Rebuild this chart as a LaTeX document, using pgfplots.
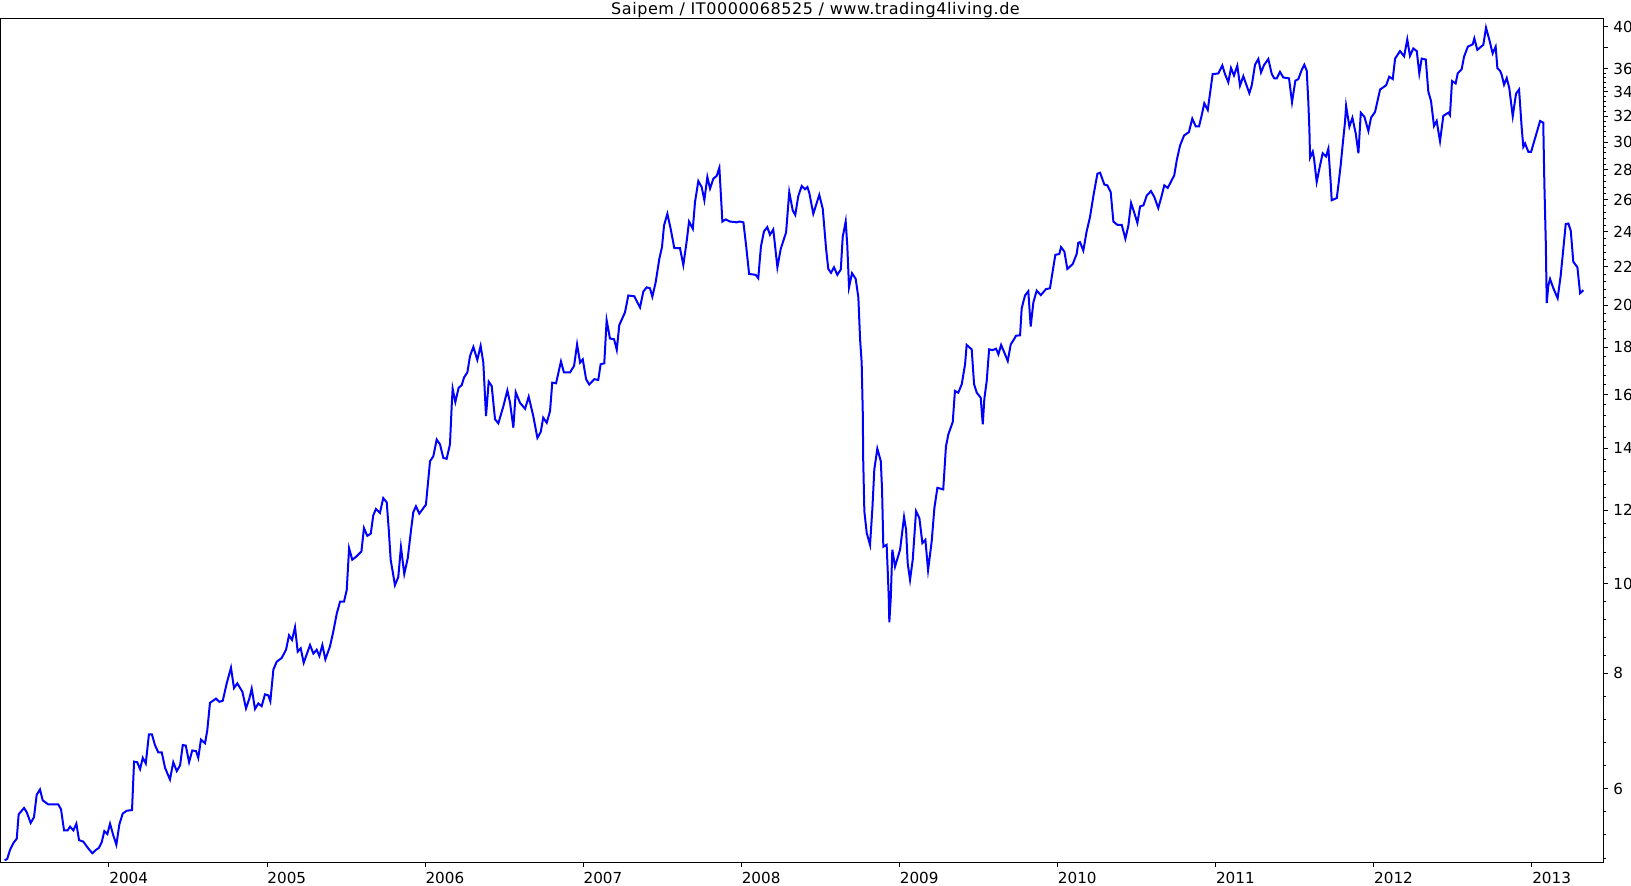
\documentclass[border=0pt]{standalone}
\usepackage{fontspec}
\setmainfont{DejaVu Sans}
\newfontfamily\titlefont[LetterSpace=3.5]{DejaVu Sans}
\usepackage{pgfplots}
\pgfplotsset{compat=1.18}

\pgfplotstableread{
t v
2003.341 5.02
2003.357 5.04
2003.374 5.15
2003.395 5.24
2003.417 5.30
2003.429 5.63
2003.463 5.72
2003.480 5.66
2003.505 5.51
2003.526 5.59
2003.543 5.91
2003.564 5.99
2003.581 5.83
2003.617 5.77
2003.659 5.77
2003.680 5.77
2003.697 5.70
2003.716 5.41
2003.739 5.41
2003.754 5.46
2003.775 5.41
2003.794 5.50
2003.811 5.28
2003.838 5.26
2003.870 5.17
2003.895 5.11
2003.916 5.15
2003.937 5.18
2003.954 5.25
2003.971 5.40
2003.990 5.36
2004.007 5.50
2004.028 5.34
2004.047 5.22
2004.066 5.49
2004.087 5.64
2004.112 5.68
2004.146 5.69
2004.159 6.42
2004.179 6.41
2004.197 6.30
2004.214 6.48
2004.233 6.39
2004.253 6.87
2004.272 6.87
2004.291 6.69
2004.312 6.57
2004.334 6.57
2004.355 6.32
2004.386 6.14
2004.407 6.41
2004.429 6.27
2004.450 6.36
2004.467 6.69
2004.486 6.68
2004.507 6.41
2004.527 6.60
2004.551 6.59
2004.565 6.48
2004.582 6.78
2004.608 6.72
2004.622 6.94
2004.639 7.43
2004.677 7.51
2004.698 7.45
2004.720 7.47
2004.745 7.80
2004.772 8.11
2004.791 7.71
2004.812 7.80
2004.844 7.64
2004.867 7.33
2004.888 7.51
2004.903 7.70
2004.924 7.32
2004.945 7.42
2004.966 7.37
2004.987 7.59
2005.008 7.57
2005.021 7.46
2005.040 8.07
2005.061 8.23
2005.093 8.31
2005.120 8.48
2005.139 8.79
2005.158 8.69
2005.177 8.97
2005.194 8.44
2005.213 8.51
2005.232 8.21
2005.272 8.58
2005.293 8.40
2005.314 8.48
2005.331 8.35
2005.350 8.58
2005.369 8.28
2005.398 8.55
2005.419 8.87
2005.441 9.28
2005.462 9.56
2005.487 9.56
2005.504 9.84
2005.519 10.92
2005.539 10.61
2005.561 10.68
2005.597 10.83
2005.613 11.48
2005.634 11.26
2005.656 11.32
2005.672 11.85
2005.689 12.04
2005.714 11.92
2005.735 12.37
2005.757 12.24
2005.770 11.43
2005.782 10.61
2005.809 9.96
2005.830 10.16
2005.847 10.95
2005.868 10.24
2005.890 10.65
2005.911 11.43
2005.925 11.94
2005.942 12.12
2005.963 11.90
2006.005 12.17
2006.031 13.56
2006.052 13.73
2006.073 14.31
2006.094 14.14
2006.115 13.67
2006.136 13.64
2006.157 14.14
2006.168 15.56
2006.174 16.24
2006.191 15.71
2006.212 16.28
2006.231 16.38
2006.246 16.70
2006.267 16.91
2006.284 17.62
2006.305 18.02
2006.330 17.45
2006.351 18.07
2006.368 17.33
2006.385 15.17
2006.402 16.53
2006.421 16.35
2006.442 15.05
2006.463 14.90
2006.494 15.53
2006.520 16.17
2006.537 15.68
2006.558 14.74
2006.573 16.10
2006.600 15.68
2006.632 15.45
2006.655 15.92
2006.684 15.17
2006.710 14.37
2006.731 14.58
2006.747 15.11
2006.769 14.92
2006.790 15.36
2006.804 16.49
2006.828 16.46
2006.859 17.38
2006.878 16.91
2006.916 16.91
2006.942 17.19
2006.961 18.14
2006.980 17.33
2006.997 17.47
2007.018 16.63
2007.038 16.41
2007.070 16.63
2007.095 16.60
2007.110 17.26
2007.133 17.30
2007.148 19.26
2007.169 18.40
2007.195 18.37
2007.212 17.89
2007.228 19.03
2007.264 19.64
2007.285 20.48
2007.323 20.44
2007.359 19.88
2007.380 20.68
2007.401 20.90
2007.422 20.85
2007.437 20.42
2007.458 21.16
2007.481 22.43
2007.498 23.10
2007.511 24.38
2007.532 25.10
2007.553 24.18
2007.576 23.04
2007.612 23.04
2007.633 22.10
2007.655 23.49
2007.669 24.62
2007.693 24.18
2007.707 25.85
2007.728 27.23
2007.749 26.83
2007.766 25.96
2007.785 27.51
2007.802 26.72
2007.823 27.39
2007.844 27.58
2007.861 28.15
2007.880 24.62
2007.901 24.75
2007.928 24.62
2007.971 24.57
2007.987 24.62
2008.013 24.57
2008.030 23.20
2008.049 21.61
2008.091 21.56
2008.107 21.38
2008.124 23.14
2008.143 24.02
2008.164 24.28
2008.181 23.82
2008.202 24.14
2008.228 21.97
2008.249 23.00
2008.283 23.96
2008.303 26.50
2008.325 25.31
2008.341 25.03
2008.360 26.23
2008.382 26.90
2008.403 26.68
2008.418 26.83
2008.430 26.43
2008.455 25.10
2008.493 26.31
2008.515 25.41
2008.536 23.00
2008.550 21.88
2008.567 21.67
2008.586 21.97
2008.607 21.56
2008.629 21.85
2008.641 23.68
2008.660 24.63
2008.670 23.20
2008.681 20.90
2008.700 21.65
2008.723 21.35
2008.740 20.39
2008.751 18.37
2008.761 17.33
2008.768 15.30
2008.771 13.56
2008.778 11.97
2008.793 11.34
2008.814 11.01
2008.829 12.07
2008.841 13.28
2008.860 13.99
2008.882 13.56
2008.890 12.64
2008.898 10.96
2008.919 11.01
2008.926 10.30
2008.932 9.68
2008.936 9.08
2008.945 9.64
2008.955 10.88
2008.972 10.43
2009.004 10.88
2009.029 11.80
2009.042 11.43
2009.052 10.52
2009.067 10.09
2009.084 10.61
2009.105 11.97
2009.126 11.77
2009.145 11.06
2009.164 11.15
2009.181 10.34
2009.204 11.11
2009.221 12.07
2009.240 12.69
2009.277 12.64
2009.294 14.06
2009.309 14.49
2009.337 14.95
2009.351 16.15
2009.372 16.08
2009.394 16.42
2009.415 17.26
2009.425 18.11
2009.457 17.91
2009.472 16.42
2009.489 16.08
2009.514 15.88
2009.527 14.86
2009.537 15.84
2009.552 16.56
2009.567 17.91
2009.590 17.88
2009.611 17.94
2009.626 17.69
2009.643 18.11
2009.664 17.76
2009.685 17.40
2009.704 18.14
2009.725 18.37
2009.737 18.53
2009.763 18.55
2009.773 19.83
2009.794 20.48
2009.815 20.70
2009.830 18.96
2009.847 20.13
2009.868 20.73
2009.894 20.50
2009.927 20.81
2009.952 20.85
2009.963 21.43
2009.986 22.66
2010.011 22.71
2010.022 23.10
2010.043 22.85
2010.062 21.88
2010.096 22.15
2010.121 22.71
2010.131 23.35
2010.142 23.39
2010.163 22.90
2010.184 24.02
2010.205 24.89
2010.227 26.26
2010.252 27.73
2010.269 27.80
2010.296 26.99
2010.315 26.94
2010.336 26.50
2010.353 24.62
2010.378 24.42
2010.406 24.42
2010.429 23.59
2010.448 24.38
2010.465 25.78
2010.484 25.20
2010.505 24.54
2010.522 25.56
2010.543 25.63
2010.564 26.26
2010.591 26.56
2010.612 26.17
2010.637 25.46
2010.659 26.26
2010.675 26.94
2010.697 26.77
2010.738 27.62
2010.754 28.68
2010.775 29.76
2010.800 30.50
2010.831 30.76
2010.852 31.81
2010.874 31.20
2010.895 31.20
2010.912 32.09
2010.928 33.05
2010.950 32.50
2010.981 35.54
2011.017 35.59
2011.042 36.31
2011.059 35.54
2011.080 34.82
2011.097 36.08
2011.116 35.41
2011.137 36.29
2011.154 34.53
2011.175 35.35
2011.213 33.89
2011.228 34.53
2011.249 36.38
2011.270 36.90
2011.287 35.68
2011.306 36.35
2011.333 36.90
2011.355 35.54
2011.371 35.16
2011.386 35.16
2011.407 35.73
2011.428 35.24
2011.464 35.16
2011.483 33.13
2011.504 34.96
2011.523 35.10
2011.544 35.90
2011.561 36.38
2011.576 35.84
2011.586 33.19
2011.593 30.89
2011.597 28.86
2011.614 29.30
2011.622 28.81
2011.639 27.17
2011.660 28.30
2011.677 29.18
2011.698 28.94
2011.713 29.52
2011.728 27.06
2011.734 25.96
2011.766 26.10
2011.776 26.94
2011.791 28.35
2011.804 29.88
2011.818 31.52
2011.825 32.84
2011.846 31.17
2011.865 31.87
2011.886 30.65
2011.903 29.18
2011.918 32.28
2011.941 31.95
2011.966 30.84
2011.983 31.89
2012.008 32.34
2012.040 34.20
2012.078 34.56
2012.098 35.31
2012.120 35.10
2012.135 36.94
2012.166 37.63
2012.192 37.15
2012.212 38.75
2012.229 37.18
2012.250 37.88
2012.272 37.63
2012.288 35.59
2012.303 36.94
2012.329 36.85
2012.345 34.02
2012.362 33.24
2012.381 31.23
2012.398 31.62
2012.419 30.07
2012.440 32.03
2012.472 32.28
2012.482 32.09
2012.495 34.93
2012.518 34.72
2012.531 35.61
2012.556 35.97
2012.571 37.11
2012.595 38.05
2012.626 38.27
2012.636 38.85
2012.655 37.75
2012.693 38.23
2012.710 39.90
2012.731 38.70
2012.752 37.41
2012.771 38.05
2012.782 36.06
2012.799 35.83
2012.809 35.48
2012.824 34.61
2012.841 35.19
2012.857 34.33
2012.879 32.00
2012.900 33.85
2012.919 34.20
2012.936 31.04
2012.946 29.65
2012.957 29.90
2012.978 29.28
2012.995 29.28
2013.026 30.53
2013.052 31.62
2013.072 31.49
2013.079 27.06
2013.088 23.39
2013.094 20.10
2013.104 20.99
2013.115 21.34
2013.136 20.85
2013.163 20.34
2013.182 21.50
2013.199 23.00
2013.214 24.46
2013.231 24.50
2013.246 24.06
2013.262 22.28
2013.288 21.97
2013.305 20.60
2013.326 20.75
}\saipem

\begin{document}
\begin{tikzpicture}
\useasboundingbox (0,-11.5pt) rectangle (815.5pt,431pt);
\begin{axis}[
  name=main,
  at={(0,0)}, anchor=south west,
  scale only axis,
  width=801.5pt, height=421.5pt,
  xmin=2003.311, xmax=2013.450,
  ymode=log, ymin=5, ymax=40.76,
  axis line style={line width=0.5pt},
  font=\fontsize{7.6}{9}\selectfont,
  /pgf/number format/assume math mode=true,
  xtick={2004,2005,2006,2007,2008,2009,2010,2011,2012,2013},
  xticklabels={2004,2005,2006,2007,2008,2009,2010,2011,2012,2013},
  xtick pos=bottom,
  xticklabel style={anchor=north west, inner sep=0pt, yshift=-2.3pt},
  ytick={6,8,10,12,14,16,18,20,22,24,26,28,30,32,34,36,38,40},
  yticklabels={6,8,10,12,14,16,18,20,22,24,26,28,30,32,34,36,,40},
  minor ytick={5.049,5.348,5.665,
    6.355,6.732,7.130,7.553,
    8.365,8.747,9.146,9.564,
    10.4,10.8,11.2,11.6, 12.4,12.8,13.2,13.6, 14.4,14.8,15.2,15.6,
    16.4,16.8,17.2,17.6, 18.4,18.8,19.2,19.6, 20.4,20.8,21.2,21.6,
    22.4,22.8,23.2,23.6, 24.4,24.8,25.2,25.6, 26.4,26.8,27.2,27.6,
    28.4,28.8,29.2,29.6, 30.4,30.8,31.2,31.6, 32.4,32.8,33.2,33.6,
    34.4,34.8,35.2,35.6},
  ytick pos=right,
  yticklabel pos=right,
  yticklabel style={anchor=west, inner sep=0pt, xshift=2.5pt},
  tick align=outside,
  major tick length=2.5pt,
  minor tick length=1.5pt,
  tick style={line width=0.5pt, black},
]
\addplot[color=blue, line width=1pt, mark=none] table[x=t, y=v] {\saipem};
\end{axis}
% title centred on the whole picture, as in the original
\node[anchor=base, inner sep=0pt, font=\titlefont\fontsize{8}{9}\selectfont]
  at (407.75pt,423.9pt) {Saipem / IT0000068525 / www.trading4living.de};
\end{tikzpicture}
\end{document}
